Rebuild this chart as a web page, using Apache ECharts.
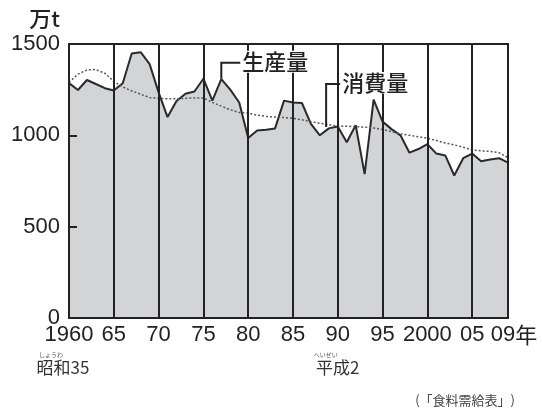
<!DOCTYPE html>
<html><head><meta charset="utf-8">
<script src="https://cdn.jsdelivr.net/npm/echarts@6/dist/echarts.min.js"></script>
<style>html,body{margin:0;padding:0;background:#fff}#c{width:542px;height:409px}</style>
</head><body><div id="c"></div>
<script>
const years = [1960,1961,1962,1963,1964,1965,1966,1967,1968,1969,
  1970,1971,1972,1973,1974,1975,1976,1977,1978,1979,
  1980,1981,1982,1983,1984,1985,1986,1987,1988,1989,
  1990,1991,1992,1993,1994,1995,1996,1997,1998,1999,
  2000,2001,2002,2003,2004,2005,2006,2007,2008,2009];
// 生産量 (万t)
const production = [1286,1248,1303,1281,1258,1245,1285,1448,1455,1390,
  1235,1100,1188,1228,1240,1310,1190,1308,1250,1180,
  985,1026,1030,1038,1190,1180,1177,1063,1000,1038,
  1048,962,1055,788,1196,1075,1034,1000,905,925,
  952,900,890,780,875,900,858,868,875,850];
// 消費量 (万t)
const consumption = [1290,1335,1358,1360,1340,1295,1265,1243,1225,1207,
  1203,1200,1200,1203,1205,1205,1180,1160,1140,1125,
  1122,1110,1104,1100,1097,1093,1085,1075,1066,1058,
  1050,1050,1048,1045,1040,1032,1020,1008,1000,992,
  984,972,958,948,935,920,915,912,905,878];
const yTicks = [0,500,1000,1500];
const xTickLabels = {1960:'1960',1965:'65',1970:'70',1975:'75',1980:'80',1985:'85',1990:'90',1995:'95',2000:'2000',2005:'05',2009:'09'};
const unitLabel = '万t';
const seriesNames = ['生産量','消費量'];
const eraLabels = [{text:'昭和35', ruby:'しょうわ', year:1960},{text:'平成2', ruby:'へいせい', year:1990}];
const sourceText = '(「食料需給表」)';

const numFont = '"Liberation Sans",Arial,sans-serif';
const jpFont = '"Noto Sans CJK JP",sans-serif';

const chart = echarts.init(document.getElementById('c'), null, {renderer:'canvas'});
const prodData = years.map((y,i)=>[y, production[i]]);
const consData = years.map((y,i)=>[y, consumption[i]]);

chart.setOption({
  animation:false,
  backgroundColor:'#fff',
  grid:{left:69, right:34, top:44, bottom:91},
  xAxis:[{
    type:'value', min:1960, max:2009, interval:5, position:'bottom', z:10,
    axisLine:{show:true, onZero:false, lineStyle:{color:'#222', width:2}},
    axisTick:{show:false},
    splitLine:{show:true, lineStyle:{color:'#222', width:2}},
    axisLabel:{
      margin:6, color:'#222', fontFamily:numFont, fontSize:22, hideOverlap:false,
      showMinLabel:true, showMaxLabel:true,
      formatter:v=> v===2009 ? '{n|09}{y|年}' : (xTickLabels[v]||''),
      rich:{n:{fontFamily:numFont, fontSize:22, color:'#222', padding:[0,0,0,12]},
            y:{fontFamily:jpFont, fontSize:22, color:'#222'}}
    }
  },{
    type:'value', min:1960, max:2009, position:'top', z:10,
    axisLine:{show:true, onZero:false, lineStyle:{color:'#222', width:2}},
    axisTick:{show:false}, axisLabel:{show:false}, splitLine:{show:false}
  }],
  yAxis:[{
    type:'value', min:0, max:1500, interval:500, position:'left', z:10,
    axisLine:{show:true, onZero:false, lineStyle:{color:'#222', width:2}},
    axisTick:{show:true, inside:true, length:8, lineStyle:{color:'#222', width:2}},
    splitLine:{show:false},
    axisLabel:{margin:9, color:'#222', fontFamily:numFont, fontSize:22,
      formatter:v=> yTicks.includes(v) ? String(v) : ''}
  },{
    type:'value', min:0, max:1500, position:'right', z:10,
    axisLine:{show:true, onZero:false, lineStyle:{color:'#222', width:2}},
    axisTick:{show:false}, axisLabel:{show:false}, splitLine:{show:false}
  }],
  series:[{
    name:seriesNames[0], type:'line', data:prodData, symbol:'none', z:2,
    lineStyle:{color:'#2a2a2a', width:2},
    areaStyle:{color:'#d3d4d6', opacity:1}
  },{
    name:seriesNames[1], type:'line', data:consData, symbol:'none', z:3,
    lineStyle:{color:'#555', width:1.5, type:[2,2]}
  }]
});

function px(x,y){ return chart.convertToPixel({gridIndex:0}, [x,y]); }
const g = [];
// unit
const topLeft = px(1960,1500);
g.push({type:'text', z:50, style:{text:unitLabel, x:topLeft[0]-9, y:19, align:'right', verticalAlign:'middle',
  font:'500 22px '+jpFont, fill:'#222'}});
// production leader
const pa = px(1977, 1310);
g.push({type:'polyline', z:40, shape:{points:[[pa[0],pa[1]],[pa[0],pa[1]-16],[pa[0]+19,pa[1]-16]]},
  style:{stroke:'#222', lineWidth:2, fill:null}});
g.push({type:'text', z:50, style:{text:seriesNames[0], x:pa[0]+20, y:pa[1]-17, verticalAlign:'middle',
  font:'500 22px '+jpFont, fill:'#222', backgroundColor:'#fff', padding:[0,1,0,1]}});
// consumption leader
const ca = px(1988.7, 1045);
g.push({type:'polyline', z:40, shape:{points:[[ca[0],ca[1]],[ca[0],ca[1]-43],[ca[0]+14,ca[1]-43]]},
  style:{stroke:'#222', lineWidth:2, fill:null}});
g.push({type:'text', z:50, style:{text:seriesNames[1], x:ca[0]+15, y:ca[1]-44, verticalAlign:'middle',
  font:'500 22px '+jpFont, fill:'#222', backgroundColor:'#fff', padding:[0,1,0,1]}});
// era labels
eraLabels.forEach(e=>{
  const p = px(e.year, 0);
  const cx = e.year===1960 ? p[0]-6 : p[0];
  g.push({type:'text', z:50, style:{text:e.text, x:cx, y:368, align:'center', verticalAlign:'middle',
    font:'17px '+jpFont, fill:'#333'}});
  g.push({type:'text', z:50, style:{text:e.ruby, x:cx-12, y:355, align:'center', verticalAlign:'middle',
    font:'6px '+jpFont, fill:'#555'}});
});
// source
g.push({type:'text', z:50, style:{text:sourceText, x:px(2009,0)[0]+7, y:400, align:'right', verticalAlign:'middle',
  font:'13px '+jpFont, fill:'#444'}});
chart.setOption({graphic:g});
</script></body></html>
